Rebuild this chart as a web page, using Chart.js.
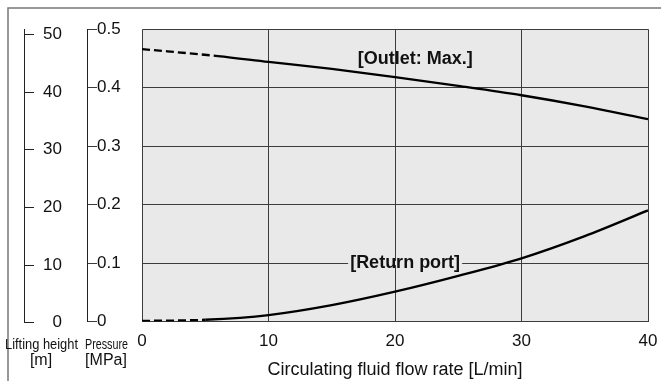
<!DOCTYPE html>
<html>
<head>
<meta charset="utf-8">
<script src="https://cdn.jsdelivr.net/npm/chart.js@4.4.1/dist/chart.umd.min.js"></script>
<style>
  html, body { margin: 0; padding: 0; background: #fff; }
  #wrap { width: 661px; height: 381px; position: relative; }
</style>
</head>
<body>
<div id="wrap"><canvas id="pumpChart"></canvas></div>
<script>
// Flow rate [L/min] vs pressure [MPa]
const outletFlow = [0, 6, 10, 15, 20, 25, 30, 35, 40];
const outletPressure = [0.466, 0.454, 0.444, 0.432, 0.418, 0.403, 0.387, 0.368, 0.346];
const returnFlow = [0, 5, 10, 15, 20, 25, 30, 35, 40];
const returnPressure = [0.001, 0.003, 0.011, 0.028, 0.051, 0.078, 0.108, 0.146, 0.19];

const flowTicks = [0, 10, 20, 30, 40];
const pressureTicks = [0, 0.1, 0.2, 0.3, 0.4, 0.5];
const liftTicks = [0, 10, 20, 30, 40, 50];

const PLOT_BG = '#e8e9e8';
const GRID = '#3c3c3c';

function toPoints(xs, ys) {
    return xs.map((x, i) => ({ x: x, y: ys[i] }));
}

// first segment of each curve is dashed
const dashFirst = {
    borderDash: ctx => ctx.p0DataIndex === 0 ? [8, 4] : undefined
};

// frame + plot background
const backdrop = {
    id: 'backdrop',
    beforeDraw(chart) {
        const { ctx, chartArea } = chart;
        ctx.save();
        ctx.fillStyle = PLOT_BG;
        ctx.fillRect(chartArea.left, chartArea.top, chartArea.right - chartArea.left, chartArea.bottom - chartArea.top);
        ctx.strokeStyle = '#777';
        ctx.lineWidth = 1.5;
        ctx.beginPath();
        ctx.moveTo(8, chart.height + 2);
        ctx.lineTo(8, 8);
        ctx.lineTo(chart.width + 2, 8);
        ctx.stroke();
        ctx.restore();
    }
};

// curve names and axis captions
const captions = {
    id: 'captions',
    afterDatasetsDraw(chart) {
        const { ctx } = chart;
        const xs = chart.scales.x;
        const ys = chart.scales.y;
        ctx.save();
        ctx.fillStyle = '#111';
        ctx.textAlign = 'center';
        ctx.textBaseline = 'middle';

        ctx.font = 'bold 18px "Liberation Sans", Arial, sans-serif';
        ctx.fillText('[Outlet: Max.]', xs.getPixelForValue(21.6), ys.getPixelForValue(0.449));

        const rx = xs.getPixelForValue(20.8);
        const ry = ys.getPixelForValue(0.1);
        const w = ctx.measureText('[Return port]').width;
        ctx.fillStyle = PLOT_BG;
        ctx.fillRect(rx - w / 2 - 2, ry - 2, w + 4, 4);
        ctx.fillStyle = '#111';
        ctx.fillText('[Return port]', rx, ry);

        ctx.font = '15px "Liberation Sans", Arial, sans-serif';
        ctx.fillText('Lifting height', 41.5, 345, 73);
        ctx.fillText('Pressure', 106.5, 345, 43);
        ctx.font = '16px "Liberation Sans", Arial, sans-serif';
        ctx.fillText('[m]', 41, 361);
        ctx.fillText('[MPa]', 106, 361);
        ctx.restore();
    }
};

const ctx = document.getElementById('pumpChart').getContext('2d');
Chart.defaults.font.family = '"Liberation Sans", Arial, sans-serif';
Chart.defaults.color = '#111';

new Chart(ctx, {
    type: 'line',
    data: {
        datasets: [
            {
                label: 'Outlet: Max.',
                data: toPoints(outletFlow, outletPressure),
                borderColor: '#000',
                borderWidth: 2.3,
                pointRadius: 0,
                cubicInterpolationMode: 'monotone',
                segment: dashFirst,
                yAxisID: 'y'
            },
            {
                label: 'Return port',
                data: toPoints(returnFlow, returnPressure),
                borderColor: '#000',
                borderWidth: 2.3,
                pointRadius: 0,
                cubicInterpolationMode: 'monotone',
                segment: dashFirst,
                yAxisID: 'y'
            }
        ]
    },
    options: {
        responsive: true,
        maintainAspectRatio: false,
        animation: false,
        layout: { padding: { left: 0, right: 13, top: 28, bottom: 0 } },
        plugins: {
            legend: { display: false },
            tooltip: { enabled: false }
        },
        scales: {
            x: {
                type: 'linear',
                min: 0,
                max: 40,
                afterBuildTicks: axis => { axis.ticks = flowTicks.map(v => ({ value: v })); },
                afterFit: axis => {
                    axis.height = 59.5;
                    axis.paddingLeft = 0;
                    axis.paddingRight = 0;
                },
                grid: { color: GRID, lineWidth: 1, drawTicks: false },
                border: { display: false },
                ticks: { font: { size: 17 }, padding: 10, maxRotation: 0 },
                title: {
                    display: true,
                    text: 'Circulating fluid flow rate [L/min]',
                    font: { size: 18 },
                    padding: { top: 0, bottom: 0 }
                }
            },
            // spacer between the pressure axis and the plot
            gap: {
                type: 'linear',
                position: 'left',
                weight: 0,
                grid: { display: false },
                border: { display: false },
                ticks: { display: false },
                afterFit: axis => { axis.width = 55; }
            },
            y: {
                type: 'linear',
                position: 'left',
                weight: 1,
                min: 0,
                max: 0.5,
                afterBuildTicks: axis => { axis.ticks = pressureTicks.map(v => ({ value: v })); },
                afterFit: axis => { axis.width = 63; },
                grid: { color: GRID, lineWidth: 1, tickLength: -10 },
                border: { display: true, color: '#222', width: 1 },
                ticks: {
                    mirror: true,
                    crossAlign: 'near',
                    padding: 10,
                    font: { size: 17 },
                    callback: v => v === 0 ? '0' : v.toFixed(1)
                }
            },
            lift: {
                type: 'linear',
                position: 'left',
                weight: 2,
                min: 0.2,
                max: 50.9,
                afterBuildTicks: axis => { axis.ticks = liftTicks.map(v => ({ value: v })); },
                afterFit: axis => { axis.width = 24; },
                grid: { drawOnChartArea: false, color: '#222', lineWidth: 1, tickLength: -10 },
                border: { display: true, color: '#222', width: 1 },
                ticks: {
                    mirror: true,
                    crossAlign: 'far',
                    padding: 19,
                    font: { size: 17 },
                    callback: v => String(v)
                }
            }
        }
    },
    plugins: [backdrop, captions]
});
</script>
</body>
</html>
